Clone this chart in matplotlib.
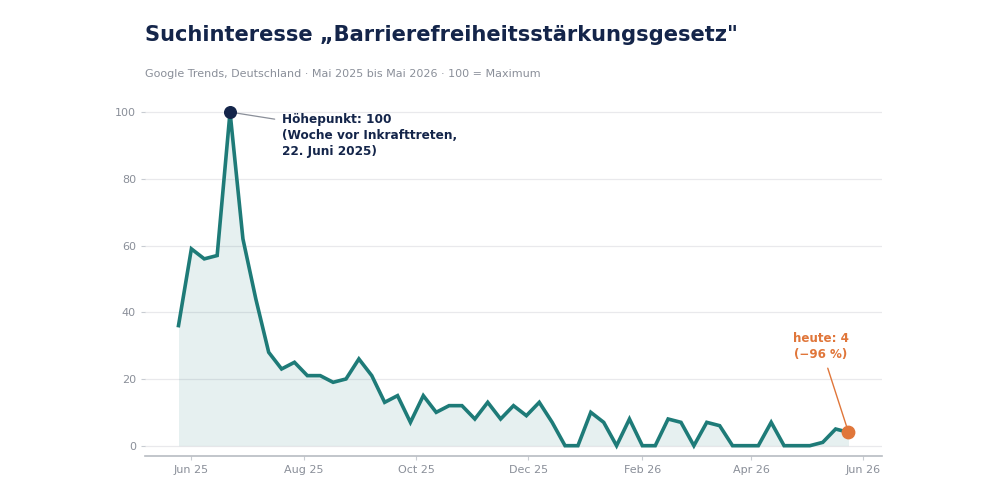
import matplotlib
matplotlib.use("Agg")
import matplotlib.pyplot as plt
import matplotlib.dates as mdates
import numpy as np
import pandas as pd

plt.rcParams['font.family'] = ['DejaVu Sans']

start_date = "2025-05-25"
values = [36, 59, 56, 57, 100, 62, 44, 28, 23, 25, 21, 21, 19, 20, 26, 21, 13, 15, 7, 15,
          10, 12, 12, 8, 13, 8, 12, 9, 13, 7, 0, 0, 10, 7, 0, 8, 0, 0, 8, 7,
          0, 7, 6, 0, 0, 0, 7, 0, 0, 0, 1, 5, 4]
dates = pd.date_range(start_date, periods=len(values), freq="7D")

title = "Suchinteresse \u201eBarrierefreiheitsst\u00e4rkungsgesetz\""
subtitle = "Google Trends, Deutschland \u00b7 Mai 2025 bis Mai 2026 \u00b7 100 = Maximum"
peak_label = "H\u00f6hepunkt: 100\n(Woche vor Inkrafttreten,\n22. Juni 2025)"
today_label = "heute: 4\n(\u221296 %)"

line_c = "#1e7b78"
navy = "#14254a"
orange = "#e0763a"
grey = "#8a8f99"

fig = plt.figure(figsize=(10, 5), dpi=100)
ax = fig.add_axes([0.145, 0.0886, 0.737, 0.7206])

x = mdates.date2num(dates)
ax.fill_between(x, 0, values, color=line_c, alpha=0.11, linewidth=0)
ax.plot(x, values, color=line_c, linewidth=2.6, solid_joinstyle='miter', zorder=3)

ipk = int(np.argmax(values))
ax.scatter([x[ipk]], [values[ipk]], s=70, color=navy, zorder=5)
ax.scatter([x[-1]], [values[-1]], s=80, color=orange, zorder=5)

ax.set_xlim(x[0] - 18.2, x[-1] + 18.2)
ax.set_ylim(-3, 105)
ax.set_yticks([0, 20, 40, 60, 80, 100])
ax.xaxis.set_major_locator(mdates.MonthLocator(bymonth=[2, 4, 6, 8, 10, 12]))
ax.xaxis.set_major_formatter(mdates.DateFormatter("%b %y"))

ax.grid(axis='y', color='#e9e9ec', linewidth=0.9)
ax.set_axisbelow(True)
for s in ['left', 'top', 'right']:
    ax.spines[s].set_visible(False)
ax.spines['bottom'].set_color('#b8bcc2')
ax.spines['bottom'].set_linewidth(1.2)
ax.tick_params(axis='both', colors='#c8ccd2', labelcolor=grey, labelsize=8, length=3, width=0.8)

ax.annotate(peak_label, xy=(x[ipk], values[ipk]), xytext=(x[ipk] + 28, 93.1),
            fontsize=8.7, fontweight='bold', color=navy, ha='left', va='center',
            linespacing=1.3,
            arrowprops=dict(arrowstyle='-', color='#8a8f99', lw=0.9, shrinkA=3, shrinkB=4,
                            relpos=(0, 0.83)))

ax.annotate(today_label, xy=(x[-1], values[-1]), xytext=(x[-1] - 15, 29.6),
            fontsize=8.6, fontweight='bold', color=orange, ha='center', va='center',
            linespacing=1.3,
            arrowprops=dict(arrowstyle='-', color=orange, lw=1.0, shrinkA=3, shrinkB=4))

fig.text(0.145, 0.93, title, fontsize=15.1, fontweight='bold', color=navy, ha='left', va='center')
fig.text(0.145, 0.852, subtitle, fontsize=8, color=grey, ha='left', va='center')

fig.savefig("out.png", dpi=100, facecolor='white')
